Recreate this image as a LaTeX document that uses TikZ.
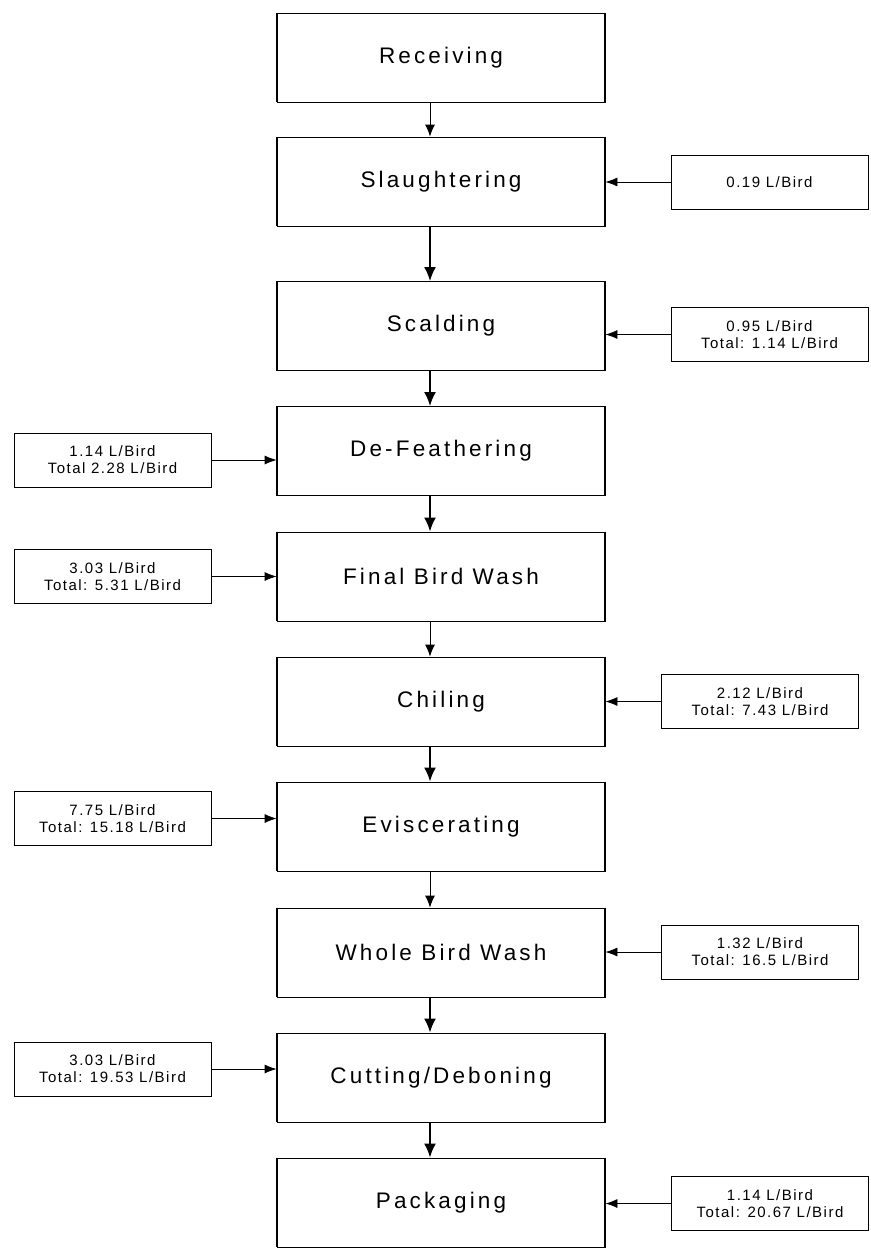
\documentclass[tikz,border=0pt]{standalone}
\usepackage{fontspec}
\setmainfont{Liberation Sans}
\newfontfamily\bigf[LetterSpace=14]{Liberation Sans}
\newfontfamily\smallf[LetterSpace=10]{Liberation Sans}
\usetikzlibrary{arrows.meta}
\begin{document}
\begin{tikzpicture}[x=1pt,y=-1pt,
  stage/.style={draw, line width=0.8pt, minimum width=328pt, minimum height=89pt, inner sep=0pt,
    font=\bigf\fontsize{22.5}{26}\selectfont},
  usage/.style={draw, line width=0.8pt, minimum width=197pt, minimum height=54pt, inner sep=0pt,
    align=center, font=\smallf\fontsize{15}{17}\selectfont},
  thinflow/.style={line width=1pt, -{Latex[length=12pt,width=10pt]}},
  thickflow/.style={line width=2pt, -{Latex[length=14pt,width=12pt]}},
  feed/.style={line width=0.8pt, -{Latex[length=12pt,width=9pt]}}
]
\useasboundingbox (0,0) rectangle (870,1249);
\fill[white] (0,0) rectangle (870,1249);

\node[stage] (rec) at (441,57.5) {Receiving};
\node[stage] (sla) at (441,181.5) {Slaughtering};
\node[stage] (sca) at (441,326) {Scalding};
\node[stage] (def) at (441,451) {De-Feathering};
\node[stage] (fbw) at (441,576.5) {Final Bird Wash};
\node[stage] (chi) at (441,701.5) {Chiling};
\node[stage] (evi) at (441,826.5) {Eviscerating};
\node[stage] (wbw) at (441,952.5) {Whole Bird Wash};
\node[stage] (cut) at (441,1077.5) {Cutting/Deboning};
\node[stage] (pac) at (441,1202.5) {Packaging};

\foreach \n in {rec,sla,sca,def,fbw,chi,evi,wbw,cut,pac}{
  \draw[line width=2pt] (\n.north west) -- (\n.south west);
  \draw[line width=2pt] (\n.north east) -- (\n.south east);
}

\node[usage] (u1) at (769.5,182) {0.19 L/Bird};
\node[usage] (u2) at (769.5,334.5) {0.95 L/Bird\\Total: 1.14 L/Bird};
\node[usage] (u3) at (112.5,460) {1.14 L/Bird\\Total 2.28 L/Bird};
\node[usage] (u4) at (112.5,576.5) {3.03 L/Bird\\Total: 5.31 L/Bird};
\node[usage] (u5) at (760,701.5) {2.12 L/Bird\\Total: 7.43 L/Bird};
\node[usage] (u6) at (112.5,818.5) {7.75 L/Bird\\Total: 15.18 L/Bird};
\node[usage] (u7) at (760,952) {1.32 L/Bird\\Total: 16.5 L/Bird};
\node[usage] (u8) at (112.5,1069) {3.03 L/Bird\\Total: 19.53 L/Bird};
\node[usage] (u9) at (770,1203.5) {1.14 L/Bird\\Total: 20.67 L/Bird};

\draw[thinflow] ([xshift=-11pt]rec.south) -- ([xshift=-11pt]sla.north);
\draw[thickflow] ([xshift=-11pt]sla.south) -- ([xshift=-11pt]sca.north);
\draw[thickflow] ([xshift=-11pt]sca.south) -- ([xshift=-11pt]def.north);
\draw[thickflow] ([xshift=-11pt]def.south) -- ([xshift=-11pt]fbw.north);
\draw[thinflow] ([xshift=-11pt]fbw.south) -- ([xshift=-11pt]chi.north);
\draw[thickflow] ([xshift=-11pt]chi.south) -- ([xshift=-11pt]evi.north);
\draw[thinflow] ([xshift=-11pt]evi.south) -- ([xshift=-11pt]wbw.north);
\draw[thickflow] ([xshift=-11pt]wbw.south) -- ([xshift=-11pt]cut.north);
\draw[thickflow] ([xshift=-11pt]cut.south) -- ([xshift=-11pt]pac.north);

\draw[feed] (u1.west) -- (u1.west -| sla.east);
\draw[feed] (u2.west) -- (u2.west -| sca.east);
\draw[feed] (u3.east) -- (u3.east -| def.west);
\draw[feed] (u4.east) -- (u4.east -| fbw.west);
\draw[feed] (u5.west) -- (u5.west -| chi.east);
\draw[feed] (u6.east) -- (u6.east -| evi.west);
\draw[feed] (u7.west) -- (u7.west -| wbw.east);
\draw[feed] (u8.east) -- (u8.east -| cut.west);
\draw[feed] (u9.west) -- (u9.west -| pac.east);
\end{tikzpicture}
\end{document}
